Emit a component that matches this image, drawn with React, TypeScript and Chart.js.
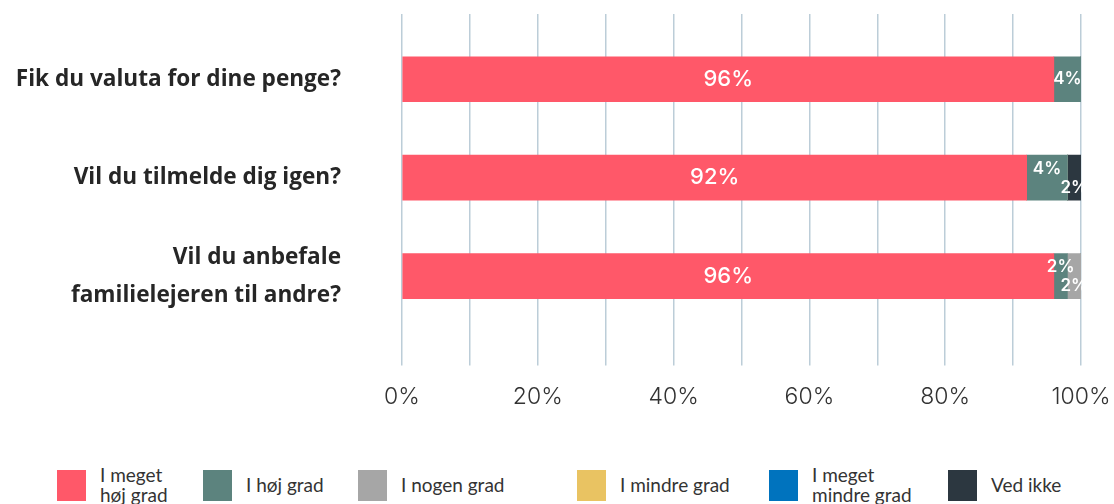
import React, { useEffect, useRef } from "react";
import { Chart, registerables } from "chart.js";

Chart.register(...registerables);

const QUESTIONS: (string | string[])[] = [
  "Fik du valuta for dine penge?",
  "Vil du tilmelde dig igen?",
  ["Vil du anbefale", "familielejeren til andre?"],
];

const SERIES_NAMES = [
  "I meget høj grad",
  "I høj grad",
  "I nogen grad",
  "I mindre grad",
  "I meget mindre grad",
  "Ved ikke",
];

// bar lengths (percent of each question)
const VERY_HIGH = [96, 92, 96];
const HIGH = [4, 6, 2];
const SOME = [0, 0, 2];
const LESS = [0, 0, 0];
const MUCH_LESS = [0, 0, 0];
const DONT_KNOW = [0, 2, 0];

// percentages as printed on the bars
const VERY_HIGH_TEXT = [96, 92, 96];
const HIGH_TEXT = [4, 4, 2];
const SOME_TEXT = [0, 0, 2];
const LESS_TEXT = [0, 0, 0];
const MUCH_LESS_TEXT = [0, 0, 0];
const DONT_KNOW_TEXT = [0, 2, 0];

const SERIES_VALUES = [VERY_HIGH, HIGH, SOME, LESS, MUCH_LESS, DONT_KNOW];
const SERIES_TEXT = [VERY_HIGH_TEXT, HIGH_TEXT, SOME_TEXT, LESS_TEXT, MUCH_LESS_TEXT, DONT_KNOW_TEXT];

const COLORS = ["#FF5869", "#5C837E", "#A6A6A6", "#E9C362", "#0073BE", "#2C3740"];

const X_TICKS_STEP = 10;

// layout only
const LEGEND_LEFT = [57, 203, 358, 577, 769, 948];
const LEGEND_TEXT_WIDTH = [76, 120, 150, 150, 110, 120];

const valueLabels = {
  id: "valueLabels",
  afterDatasetsDraw(chart: any) {
    const ctx = chart.ctx;
    const nCats = chart.data.labels.length;
    for (let i = 0; i < nCats; i++) {
      const small: number[] = [];
      const items: { ds: number; el: any; v: number }[] = [];
      chart.data.datasets.forEach((ds: any, d: number) => {
        const v = ds.data[i];
        if (!v) return;
        const el = chart.getDatasetMeta(d).data[i];
        items.push({ ds: d, el, v });
        if (v < 10) small.push(d);
      });
      ctx.save();
      ctx.fillStyle = "#ffffff";
      ctx.textAlign = "center";
      ctx.textBaseline = "middle";
      items.forEach((it) => {
        const x = (it.el.x + it.el.base) / 2;
        let y = it.el.y;
        if (it.v < 10) {
          ctx.font = "600 17px Inter";
          if (small.length >= 2) {
            const idx = small.indexOf(it.ds);
            y += idx % 2 === 0 ? -9 : 10;
          }
        } else {
          ctx.font = "500 22px Inter";
        }
        ctx.fillText(SERIES_TEXT[it.ds][i] + "%", x, y);
      });
      ctx.restore();
    }
  },
};

export default function App() {
  const ref = useRef<HTMLCanvasElement>(null);
  useEffect(() => {
    if (!ref.current) return;
    const chart = new Chart(ref.current, {
      type: "bar",
      data: {
        labels: QUESTIONS as any,
        datasets: SERIES_NAMES.map((name, i) => ({
          label: name,
          data: SERIES_VALUES[i],
          backgroundColor: COLORS[i],
          borderWidth: 0,
          barThickness: 45,
        })),
      },
      options: {
        indexAxis: "y",
        animation: false,
        responsive: true,
        maintainAspectRatio: false,
        layout: { padding: { top: 14, right: 33, bottom: 12, left: 0 } },
        plugins: {
          legend: { display: false },
          tooltip: { enabled: false },
        },
        scales: {
          x: {
            type: "linear",
            stacked: true,
            min: 0,
            max: 100,
            position: "bottom",
            border: { display: false },
            grid: {
              color: "#BCCDD8",
              lineWidth: 1.5,
              drawTicks: true,
              tickLength: 40,
              tickColor: "#BCCDD8",
            },
            afterFit: (scale: any) => {
              scale.paddingLeft = 0;
              scale.paddingRight = 0;
            },
            ticks: {
              stepSize: X_TICKS_STEP,
              padding: 18,
              autoSkip: false,
              maxRotation: 0,
              color: "#333333",
              font: { family: "Inter", size: 23, weight: 300 },
              callback: (v: any) => (Number(v) % 20 === 0 ? v + "%" : ""),
            },
          },
          xTop: {
            type: "linear",
            min: 0,
            max: 100,
            position: "top",
            border: { display: false },
            grid: {
              drawOnChartArea: false,
              drawTicks: true,
              tickLength: 16,
              tickColor: "#BCCDD8",
              lineWidth: 1.5,
              color: "#BCCDD8",
            },
            afterFit: (scale: any) => {
              scale.paddingLeft = 0;
              scale.paddingRight = 0;
            },
            ticks: { display: false, stepSize: X_TICKS_STEP },
          },
          y: {
            stacked: true,
            border: { display: false },
            grid: { display: false, drawTicks: false },
            afterFit: (scale: any) => {
              scale.width = 402;
              scale.paddingTop = 0;
              scale.paddingBottom = 0;
            },
            ticks: {
              padding: 61,
              autoSkip: false,
              color: "#262626",
              font: { family: "Open Sans", size: 22.6, weight: 700, lineHeight: 1.68 },
            },
          },
        },
      },
      plugins: [valueLabels],
    });
    return () => chart.destroy();
  }, []);

  return (
    <div
      style={{
        position: "fixed",
        left: 0,
        top: 0,
        width: 1114,
        height: 504,
        background: "#ffffff",
        overflow: "hidden",
      }}
    >
      <div style={{ position: "absolute", left: 0, top: 0, width: 1114, height: 441 }}>
        <canvas ref={ref} />
      </div>
      {SERIES_NAMES.map((name, i) => (
        <div
          key={name}
          style={{
            position: "absolute",
            left: LEGEND_LEFT[i],
            top: 462,
            height: 46,
            display: "flex",
            alignItems: "center",
          }}
        >
          <div style={{ width: 29, height: 31, background: COLORS[i], flex: "none" }} />
          <div
            style={{
              marginLeft: 14,
              width: LEGEND_TEXT_WIDTH[i],
              fontFamily: "Lato",
              fontSize: 19,
              lineHeight: "20px",
              color: "#333333",
            }}
          >
            {name}
          </div>
        </div>
      ))}
    </div>
  );
}
